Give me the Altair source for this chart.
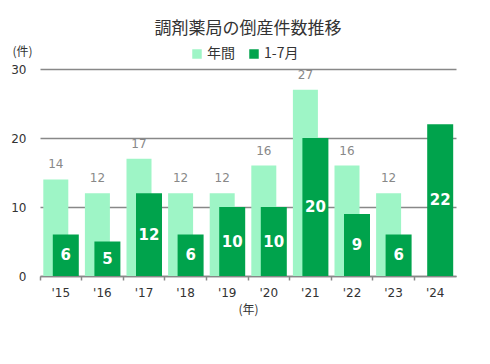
import altair as alt
import pandas as pd

years = ["'15", "'16", "'17", "'18", "'19", "'20", "'21", "'22", "'23", "'24"]
annual = [14, 12, 17, 12, 12, 16, 27, 16, 12, None]
jan_jul = [6, 5, 12, 6, 10, 10, 20, 9, 6, 22]
series_names = ["年間", "1-7月"]
colors = ["#9ef5c6", "#00a34c"]

JP = "Noto Sans CJK JP"
NUM = "DejaVu Sans"

df = pd.DataFrame({
    "year": years * 2,
    "series": [series_names[0]] * len(years) + [series_names[1]] * len(years),
    "value": annual + jan_jul,
}).dropna()
df["mid"] = df["value"] / 2

x = alt.X(
    "year:N", sort=years,
    scale=alt.Scale(paddingInner=0, paddingOuter=0),
    axis=alt.Axis(
        title="(年)", titleFont=JP, titleFontSize=12, titleFontWeight="normal",
        titleColor="#333", titleY=33, titleBaseline="middle",
        labelAngle=0, labelFont=NUM, labelFontSize=12, labelColor="#333",
        labelPadding=7, domainColor="#888", domainWidth=1.5,
        tickColor="#888", tickSize=4, tickWidth=1.5, bandPosition=0, grid=False,
    ),
)
y = alt.Y(
    "value:Q",
    scale=alt.Scale(domain=[0, 30]),
    axis=alt.Axis(
        values=[0, 10, 20, 30], title="(件)", titleAngle=0, titleX=-28, titleY=-18,
        titleAlign="left", titleBaseline="middle", titleFont=JP, titleFontSize=12,
        titleFontWeight="normal", titleColor="#333",
        labelFont=NUM, labelFontSize=12, labelColor="#333", labelPadding=14,
        domain=False, ticks=False, gridColor="#888", gridWidth=1.5,
    ),
)
color = alt.Color(
    "series:N",
    scale=alt.Scale(domain=series_names, range=colors),
    legend=alt.Legend(
        orient="none", legendX=150, legendY=-22, direction="horizontal", title=None,
        symbolType="square", symbolSize=90, symbolStrokeWidth=0,
        labelFont=JP, labelFontSize=14, labelColor="#333", labelOffset=3,
        columnPadding=12,
    ),
)

base = alt.Chart(df)
light = base.transform_filter(alt.datum.series == series_names[0])
dark = base.transform_filter(alt.datum.series == series_names[1])

light_bar = light.mark_bar(width=25, xOffset=-5).encode(x=x, y=y, color=color)
dark_bar = dark.mark_bar(width=26, xOffset=5).encode(x=x, y=y, color=color)
light_txt = light.mark_text(
    baseline="bottom", dy=-8, xOffset=-5, font=NUM, fontSize=12, color="#888"
).encode(x=alt.X("year:N", sort=years), y="value:Q", text="value:Q")
dark_txt = dark.mark_text(
    baseline="middle", xOffset=5, font=NUM, fontSize=15, fontWeight="bold", color="white"
).encode(x=alt.X("year:N", sort=years), y="mid:Q", text="value:Q")

chart = alt.layer(light_bar, dark_bar, light_txt, dark_txt).properties(
    width=416, height=207,
    autosize=alt.AutoSizeParams(type="none"),
    padding={"left": 32, "top": 61, "right": 26, "bottom": 80},
    background="white",
    title=alt.TitleParams(
        "調剤薬局の倒産件数推移", font=JP, fontSize=17, fontWeight="normal",
        color="#333", anchor="middle", frame="group", offset=7,
    ),
).configure_view(stroke=None)

chart.save("out.html", embed_options={"renderer": "svg", "actions": False})
